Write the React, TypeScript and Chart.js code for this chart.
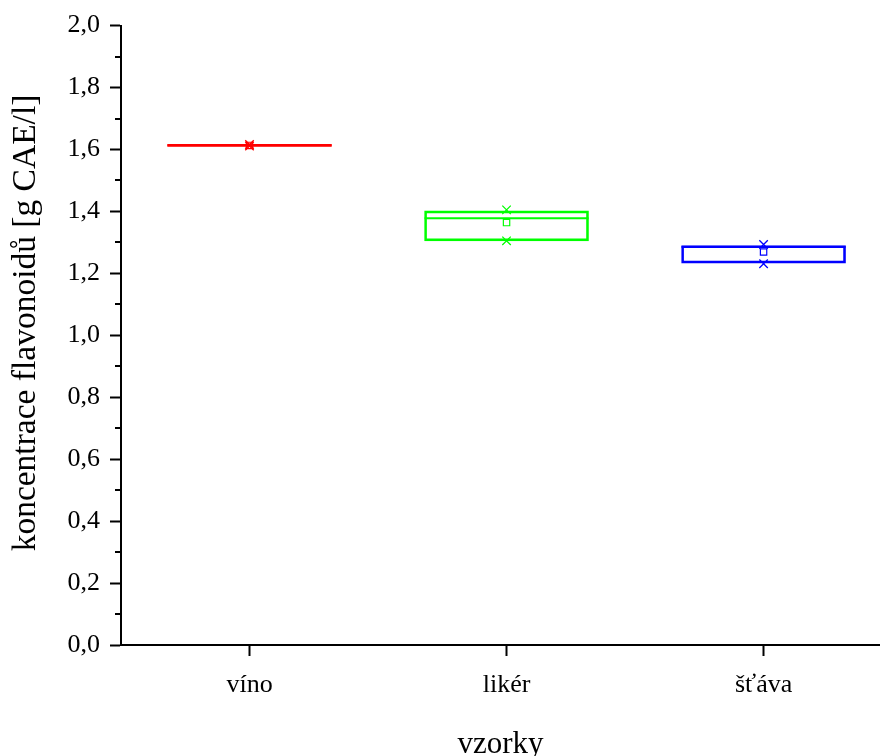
import React, { useEffect, useRef } from "react";
import { Chart, registerables } from "chart.js";

Chart.register(...registerables);

const categories = ["víno", "likér", "šťáva"];
const q1 = [1.610, 1.305, 1.233];
const q3 = [1.617, 1.402, 1.290];
const medians = [1.613, 1.378, 1.285];
const means = [1.613, 1.364, 1.269];
const mins = [1.611, 1.305, 1.231];
const maxs = [1.616, 1.405, 1.293];
const colors = ["#ff0000", "#00ff00", "#0000ff"];
const yMinorTicks = [0.1, 0.3, 0.5, 0.7, 0.9, 1.1, 1.3, 1.5, 1.7, 1.9];
const yTitle = "koncentrace flavonoidů [g CAE/l]";
const boxHalfWidth = 0.319;
const FONT = "'Liberation Serif', 'Times New Roman', serif";

const boxExtrasPlugin = {
  id: "boxExtras",
  afterDatasetsDraw(chart: any) {
    const x = chart.scales.x;
    const y = chart.scales.y;
    const ctx = chart.ctx;
    ctx.save();
    // medians
    ctx.lineWidth = 2;
    medians.forEach((m, i) => {
      const py = y.getPixelForValue(m);
      ctx.strokeStyle = colors[i];
      ctx.beginPath();
      ctx.moveTo(x.getPixelForValue(i - boxHalfWidth), py);
      ctx.lineTo(x.getPixelForValue(i + boxHalfWidth), py);
      ctx.stroke();
    });
    ctx.restore();
  },
  afterDraw(chart: any) {
    const y = chart.scales.y;
    const ctx = chart.ctx;
    ctx.save();
    // minor ticks
    ctx.strokeStyle = "#000";
    ctx.lineWidth = 2;
    const x0 = chart.chartArea.left;
    yMinorTicks.forEach((v) => {
      const py = Math.round(y.getPixelForValue(v));
      ctx.beginPath();
      ctx.moveTo(x0, py);
      ctx.lineTo(x0 - 6, py);
      ctx.stroke();
    });
    // y axis title
    ctx.fillStyle = "#000";
    ctx.font = `33.5px ${FONT}`;
    ctx.textAlign = "center";
    ctx.textBaseline = "middle";
    ctx.translate(26, 323);
    ctx.rotate(-Math.PI / 2);
    ctx.fillText(yTitle, 0, 0);
    ctx.restore();
  },
};

export default function App() {
  const ref = useRef<HTMLCanvasElement>(null);
  useEffect(() => {
    if (!ref.current) return;
    const font = FONT;
    const chart = new Chart(ref.current, {
      type: "bar",
      data: {
        datasets: [
          {
            type: "bar",
            data: categories.map((c, i) => ({ x: i, y: [q1[i], q3[i]] })) as any,
            backgroundColor: "rgba(0,0,0,0)",
            borderColor: colors,
            borderWidth: 2,
            borderSkipped: false,
            barThickness: 164,
          } as any,
          {
            type: "scatter",
            data: categories.map((c, i) => ({ x: i, y: means[i] })),
            pointStyle: "rect",
            pointRadius: 4.5,
            borderColor: colors,
            backgroundColor: "rgba(0,0,0,0)",
            borderWidth: 1.2,
          } as any,
          {
            type: "scatter",
            data: categories.flatMap((c, i) => [
              { x: i, y: mins[i] },
              { x: i, y: maxs[i] },
            ]),
            pointStyle: "crossRot",
            pointRadius: 6,
            borderColor: categories.flatMap((c, i) => [colors[i], colors[i]]),
            borderWidth: 1.3,
          } as any,
        ],
      },
      options: {
        responsive: false,
        animation: false,
        events: [],
        layout: { padding: { top: 25, left: 0, right: 0, bottom: 0 } },
        plugins: { legend: { display: false }, tooltip: { enabled: false } },
        scales: {
          x: {
            type: "linear",
            min: -0.5,
            max: 2.453,
            offset: false,
            afterBuildTicks: (scale: any) => {
              scale.ticks = categories.map((c, i) => ({ value: i }));
            },
            afterFit: (scale: any) => {
              scale.height = 111;
            },
            ticks: {
              callback: (v: any) => categories[v as number] ?? "",
              color: "#000",
              font: { family: font, size: 26 },
              padding: 14,
              maxRotation: 0,
            },
            grid: {
              offset: false,
              drawOnChartArea: false,
              tickLength: 11,
              tickWidth: 2,
              tickColor: "#000",
            },
            border: { color: "#000", width: 2 },
            title: {
              display: true,
              text: "vzorky",
              color: "#000",
              font: { family: font, size: 31, lineHeight: 1 },
              padding: { top: 0, bottom: -4 },
            },
          } as any,
          y: {
            type: "linear",
            min: 0,
            max: 2,
            afterFit: (scale: any) => {
              scale.width = 121;
            },
            ticks: {
              stepSize: 0.2,
              callback: (v: any) => Number(v).toFixed(1).replace(".", ","),
              color: "#000",
              font: { family: font, size: 26 },
              padding: 10,
            },
            grid: {
              drawOnChartArea: false,
              tickLength: 11,
              tickWidth: 2,
              tickColor: "#000",
            },
            border: { color: "#000", width: 2 },
            title: { display: false },
          },
        },
      },
      plugins: [boxExtrasPlugin],
    });
    // markers may overhang the plot edge; do not reserve padding for them
    [1, 2].forEach((i) => {
      const ctrl: any = chart.getDatasetMeta(i).controller;
      if (ctrl) ctrl.getMaxOverflow = () => 0;
    });
    chart.update("none");
    return () => chart.destroy();
  }, []);
  return (
    <div style={{ position: "absolute", left: 0, top: 0, background: "#fff" }}>
      <canvas ref={ref} width={880} height={756} />
    </div>
  );
}
